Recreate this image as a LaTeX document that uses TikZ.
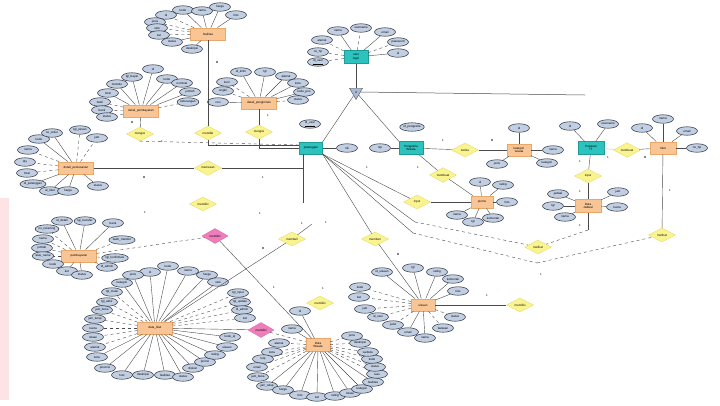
\documentclass[tikz,border=0pt]{standalone}
\usepackage{fontspec}
\setmainfont{Liberation Sans}
\usetikzlibrary{shapes.geometric}
\definecolor{entor}{HTML}{F9C594}
\definecolor{entorb}{HTML}{E9A86A}
\definecolor{teal1}{HTML}{2CC3BF}
\definecolor{teal1b}{HTML}{1E9C99}
\definecolor{attrf}{HTML}{C2CFE3}
\definecolor{attrb}{HTML}{343A45}
\definecolor{relf}{HTML}{FAF490}
\definecolor{relb}{HTML}{E2D860}
\definecolor{pinkf}{HTML}{F07DBB}
\definecolor{pinkb}{HTML}{D9609E}
\definecolor{trif}{HTML}{A8BAD6}
\definecolor{lnc}{HTML}{4A4A4A}
\definecolor{band}{HTML}{FDE3E6}
\newcommand\ring[2]{\foreach \x/\y/\l/\s [count=\i] in {#2} {\node[attr] (#1a\i) at (\x,\y) {\l}; \ifnum\s=1 \draw[conn,dashed] (#1) -- (#1a\i); \else \draw[conn] (#1) -- (#1a\i); \fi}}
\begin{document}
\begin{tikzpicture}[x=1pt,y=-1pt,
  every node/.style={font=\fontsize{3}{3.4}\selectfont},
  attr/.style={ellipse,draw=attrb,fill=attrf,line width=0.55pt,minimum width=21pt,minimum height=8.5pt,inner sep=0.2pt},
  ento/.style={rectangle,draw=entorb,fill=entor,line width=0.3pt,minimum width=35pt,minimum height=12.5pt,inner sep=0.5pt,align=center},
  entt/.style={rectangle,draw=teal1b,fill=teal1,line width=0.3pt,minimum width=24pt,minimum height=13pt,inner sep=0.5pt,align=center},
  rel/.style={diamond,draw=relb,fill=relf,line width=0.3pt,minimum width=27pt,minimum height=14pt,inner sep=0pt},
  relp/.style={diamond,draw=pinkb,fill=pinkf,line width=0.3pt,minimum width=26pt,minimum height=15pt,inner sep=0pt},
  conn/.style={draw=lnc,line width=0.4pt},
  card/.style={font=\fontsize{3}{3.4}\selectfont,inner sep=0pt}]
\useasboundingbox (0,0) rectangle (720,405);
\fill[white] (0,0) rectangle (720,405);
\fill[band] (0,198) rectangle (9,400);

% ---------- entities ----------
\node[ento] (e1) at (208,34) {fasilitas};
\node[ento] (e2) at (141,111) {detail\_pembayaran};
\node[ento] (e3) at (259,103) {detail\_pengiriman};
\node[ento] (e4) at (76,168) {detail\_pemesanan};
\node[ento] (e5) at (79,256) {pembayaran};
\node[ento] (e6) at (155,328) {data\_tiket};
\node[ento,minimum width=24pt,minimum height=13pt] (e7) at (318,345) {Data\\Wisata};
\node[ento,minimum width=24pt] (e8) at (423,305) {ulasan};
\node[ento,minimum width=24pt] (e9) at (519,150) {kategori\\wisata};
\node[ento,minimum width=26pt] (e10) at (663,148) {tiket};
\node[ento,minimum width=26pt,minimum height=13pt] (e11) at (588,206) {Data\\Jadwal};
\node[ento,minimum width=22pt] (e12) at (482,202) {promo};
\node[entt] (usr) at (356,57) {user\\login};
\node[entt,minimum width=23pt,minimum height=12pt] (plg) at (311,148) {pelanggan};
\node[entt] (peng) at (411,148) {Pengelola\\Wisata};
\node[entt,minimum width=26pt] (adm) at (591,148) {Pegawai\\IT};
\node[regular polygon,regular polygon sides=3,shape border rotate=180,draw=attrb,fill=trif,line width=0.3pt,minimum size=15pt,inner sep=0pt] (tri) at (356,92) {d};

% ---------- relationships ----------
\node[rel] (d1) at (208,133) {memiliki};
\node[rel] (d2) at (140,134) {mengisi};
\node[rel] (d3) at (259,132) {mengisi};
\node[rel] (d4) at (208,168) {memesan};
\node[rel] (d5) at (203,204) {memiliki};
\node[rel] (d6) at (292,239) {membeli};
\node[rel] (d7) at (375,239) {memberi};
\node[rel] (d8) at (320,303) {memiliki};
\node[rel] (d9) at (520,305) {memiliki};
\node[rel] (d10) at (465,150) {kelola};
\node[rel] (d11) at (627,150) {membuat};
\node[rel] (d12) at (588,176) {input};
\node[rel] (d13) at (538,247) {melihat};
\node[rel] (d14) at (662,235) {melihat};
\node[rel] (d15) at (417,202) {input};
\node[rel] (d16) at (443,175) {membuat};
\node[relp] (p1) at (215,236) {memiliki};
\node[relp] (p2) at (261,330) {memiliki};

% ---------- attributes ----------
\ring{e1}{183/10/kode/0, 202/11/nama/0, 220/7/harga/0, 236/15/foto/0, 166/15/id/1, 155/22/jenis/1, 157/28/stok/1, 159/35/ket/1, 172/42/status/0, 192/49/deskripsi/0}
\ring{e2}{153/69/id/0, 132/77/tgl\_bayar/0, 117/84/metode/0, 108/93/total/0, 100/102/bukti/1, 102/110/bank/1, 107/117/status/1, 167/79/kode/0, 182/83/nominal/0, 190/92/jumlah/0, 188/102/keterangan/1}
\ring{e3}{241/72/id\_kirim/0, 265/72/tgl/0, 286/76/alamat/0, 298/83/kota/0, 304/92/kode\_pos/0, 298/100/status/1, 227/82/kurir/1, 223/91/ongkir/1, 218/102/resi/0}
\ring{e4}{39/139/kode/0, 52/133/no\_order/0, 80/130/tgl\_pesan/1, 97/138/jam/1, 28/150/nama/1, 25/162/qty/1, 27/173/total/1, 33/184/id\_pelanggan/0, 50/191/id\_tiket/0, 68/191/harga/0, 98/186/status/0}
\ring{e5}{62/221/id\_detail/0, 85/221/tgl\_transfer/0, 113/223/bank/0, 47/229/no\_rekening/1, 43/239/nama/1, 42/248/jumlah/1, 43/256/atas\_nama/1, 53/264/kode/1, 67/271/ket/0, 82/275/status/0, 122/240/bukti\_transfer/1, 115/258/tgl\_konfirmasi/1, 107/267/id\_admin/1}
\ring{e6}{150/272/id/0, 168/266/kode/0, 188/271/nama/0, 207/275/harga/0, 218/282/stok/0, 133/275/jenis/0, 122/283/kategori/0, 112/292/tgl\_mulai/1, 107/302/tgl\_akhir/1, 102/310/jam\_buka/1, 95/319/jam\_tutup/1, 93/328/kuota/1, 93/337/lokasi/1, 95/347/alamat/1, 97/357/kota/0, 105/368/provinsi/0, 122/375/foto/0, 143/375/deskripsi/0, 165/375/fasilitas/0, 183/377/status/0, 193/368/diskon/0, 205/362/promo/0, 215/355/rating/0, 227/347/ulasan/0, 230/337/kode\_qr/0, 238/293/tgl\_input/1, 240/302/tgl\_update/1, 242/310/id\_admin/1, 245/318/ket/1}
\ring{e7}{300/311/id/0, 292/329/nama/0, 279/343/alamat/1, 272/352/kota/1, 263/359/telp/1, 257/367/email/1, 258/377/jam\_buka/1, 267/386/jam\_tutup/0, 283/390/harga/0, 300/395/foto/0, 317/397/ket/0, 335/396/rating/0, 350/393/lokasi/0, 362/389/kategori/0, 373/382/fasilitas/0, 377/374/luas/1, 375/367/status/1, 372/359/kode/1, 368/352/website/1, 360/343/deskripsi/1, 352/336/jenis/1}
\ring{e8}{382/272/id\_ulasan/0, 413/268/tgl/0, 437/272/rating/0, 453/279/komentar/0, 458/291/foto/0, 455/317/status/1, 443/328/balasan/1, 425/338/nama/0, 408/332/email/0, 393/325/judul/1, 378/317/id\_user/1, 365/309/jam/1, 359/297/ket/1, 360/287/kode/1}
\ring{e9}{519/128/id/0, 553/150/nama/0, 547/163/kategori/0, 497/164/jenis/0}
\ring{e10}{642/128/id/0, 663/119/nama/0, 687/131/email/0, 697/148/no\_hp/0}
\ring{adm}{570/126/id/0, 608/124/username/0}
\ring{e11}{558/194/jadwal/0, 553/206/tgl/0, 565/217/nama/0, 618/192/jam/0, 617/207/kuota/0}
\ring{e12}{480/182/id/0, 503/185/rating/0, 507/202/foto/0, 493/218/komentar/0, 473/222/tgl/0, 457/215/nama/0}
\ring{usr}{338/31/nama/0, 361/28/username/1, 385/32/email/0, 398/42/password/1, 398/53/id/0, 322/40/alamat/1, 318/52/no\_hp/1, 318/62/\underline{id\_user}/1}
\ring{plg}{347/148/nik/0}
\ring{peng}{380/148/nip/0}
\node[attr] (a1) at (310,124) {\underline{id\_user}};
\node[attr,minimum width=24pt] (a2) at (412,127) {id\_pengelola};

% ---------- connectors ----------
\coordinate (c1) at (585,95);
\coordinate (c2) at (303,203);
\coordinate (c3) at (312,224);
\coordinate (c4) at (415,222);
\coordinate (c5) at (413,233);
\coordinate (c6) at (537,263);
\coordinate (c7) at (588,230);
\draw[conn,line width=0.5pt] (usr) -- (tri);
\draw[conn,line width=0.5pt] (tri.east) -- (c1);
\draw[conn] (tri) -- (plg.north east);
\draw[conn] (tri) -- (peng.north west);
\draw[conn] (e1) -- (d1);
\draw[conn] (d1.south) |- ([yshift=3pt]plg.west);
\draw[conn] (e2) -- (d2);
\draw[conn,dashed] (d2.south) -- ([yshift=3pt]plg.west);
\draw[conn] (e3) -- (d3);
\draw[conn] (d3.south) |- (plg.west);
\draw[conn] (e4) -- (d4);
\draw[conn] (d4) -| ([xshift=-8pt]plg.south);
\draw[conn] ([xshift=-8pt]plg.south) -- (c2);
\draw[conn,dashed] (e5) -- (p1);
\draw[conn] (p1) -- (e7);
\draw[conn] (e6) -- (p2);
\draw[conn,dashed] (p2) -- (e7);
\draw[conn] (e6) -- (d6);
\draw[conn] (d6) -- (c3);
\draw[conn] (plg.south east) -- (d7);
\draw[conn] (d7) -- (e8);
\draw[conn] (plg.south east) -- (d15);
\draw[conn] (d15) -- (e12);
\draw[conn] (peng) -- (d16);
\draw[conn] (d16) -- (e12);
\draw[conn] (peng) -- (d10);
\draw[conn,line width=0.5pt] (d10) -- (e9);
\draw[conn,draw=lnc!40] (adm) -- (d11);
\draw[conn] (d11) -- (e10);
\draw[conn] (adm) -- (d12);
\draw[conn] (d12) -- (e11);
\draw[conn] (e11) -- (c7);
\draw[conn,dashed] (c7) -- (d13);
\draw[conn] (plg.south east) -- (c4);
\draw[conn,dashed] (c4) -- (d13);
\draw[conn] (plg.south east) -- (c5);
\draw[conn,dashed] (c5) -- (c6);
\draw[conn,dashed] (c6) -- (d14);
\draw[conn] (e10) -- (d14);
\draw[conn] (e8) -- (d9);

% ---------- cardinalities ----------
\node[card] (k1) at (217,62) {M};
\node[card] (k2) at (132,122) {M};
\node[card] (k3) at (162,141) {1};
\node[card] (k4) at (217,145) {1};
\node[card] (k5) at (268,115) {1};
\node[card] (k6) at (144,177) {M};
\node[card] (k7) at (263,177) {1};
\node[card] (k8) at (443,140) {1};
\node[card] (k9) at (492,140) {M};
\node[card] (k10) at (367,167) {1};
\node[card] (k11) at (418,167) {1};
\node[card] (k12) at (608,157) {1};
\node[card] (k13) at (645,157) {M};
\node[card] (k14) at (580,161) {1};
\node[card] (k15) at (580,191) {1};
\node[card] (k16) at (580,225) {1};
\node[card] (k17) at (670,190) {1};
\node[card] (k18) at (541,274) {1};
\node[card] (k19) at (302,223) {1};
\node[card] (k20) at (326,222) {1};
\node[card] (k21) at (263,248) {M};
\node[card] (k22) at (274,287) {1};
\node[card] (k23) at (323,288) {1};
\node[card] (k24) at (398,254) {M};
\node[card] (k25) at (487,295) {1};
\node[card] (k26) at (260,213) {1};
\node[card] (k27) at (145,212) {1};
\end{tikzpicture}
\end{document}
